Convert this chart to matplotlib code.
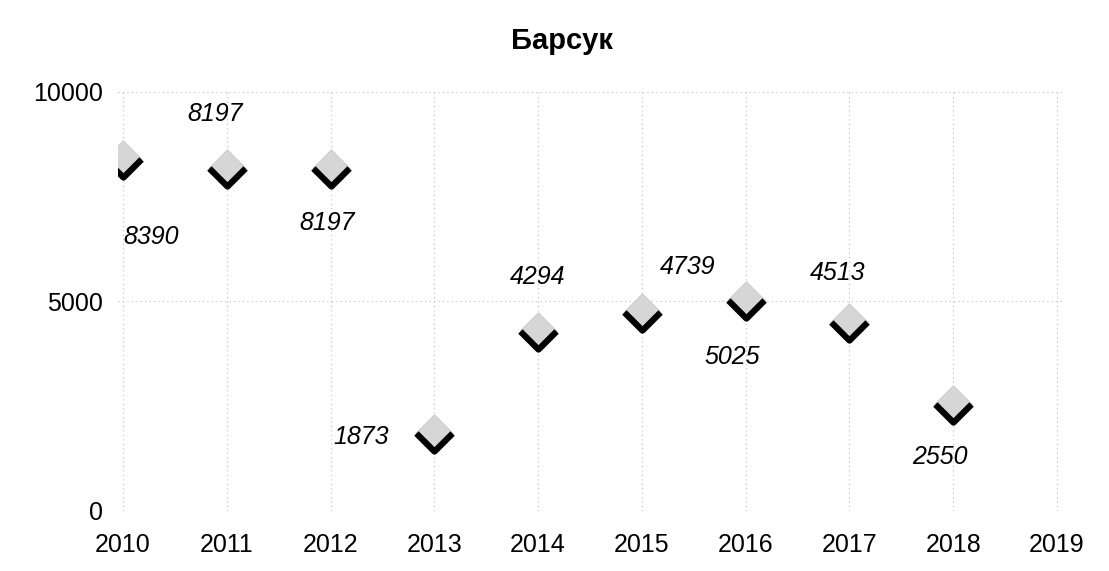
import matplotlib.pyplot as plt
from matplotlib.path import Path

years = [2010, 2011, 2012, 2013, 2014, 2015, 2016, 2017, 2018]
values = [8390, 8197, 8197, 1873, 4294, 4739, 5025, 4513, 2550]
labels = ["8390", "8197", "8197", "1873", "4294", "4739", "5025", "4513", "2550"]
tick_years = list(range(2010, 2020))
y_ticks = [0, 5000, 10000]

# label offsets in pixels (x right, y up)
offsets = [(28, -78), (-12, 54), (-3, -55), (-73, -4), (-1, 54),
           (46, 45), (-13, -57), (-12, 49), (-13, -53)]

plt.rcParams["font.family"] = ["Liberation Sans", "DejaVu Sans"]

diamond = Path([(0, 1), (1, 0), (0, -1), (-1, 0), (0, 1)],
               [Path.MOVETO, Path.LINETO, Path.LINETO, Path.LINETO, Path.CLOSEPOLY])
chevron = Path([(-1, 0), (0, -1), (1, 0)],
               [Path.MOVETO, Path.LINETO, Path.LINETO])

fig = plt.figure(figsize=(11.09, 5.71), dpi=100)
ax = fig.add_axes([0.1064, 0.1051, 0.8512, 0.7338])

ax.plot(years, values, linestyle="none", marker=diamond, markersize=27,
        markerfacecolor="#d6d6d6", markeredgecolor="#c4c4c4", markeredgewidth=0.5)
ax.plot(years, values, linestyle="none", marker=chevron, markersize=26,
        markerfacecolor="none", markeredgecolor="black", markeredgewidth=4.5)

for x, y, t, (dx, dy) in zip(years, values, labels, offsets):
    ax.annotate(t, (x, y), xytext=(dx, dy), textcoords="offset pixels",
                ha="center", va="center", fontsize=18, fontstyle="italic")

ax.set_xlim(2009.952, 2019.048)
ax.set_ylim(0, 10000)
ax.set_xticks(tick_years)
ax.set_yticks(y_ticks)
ax.tick_params(length=0, labelsize=18)
ax.tick_params(axis="x", pad=16)
ax.tick_params(axis="y", pad=11)
ax.grid(True, color="#bdbdbd", linestyle=(0, (1, 3)), linewidth=0.8)
for s in ax.spines.values():
    s.set_visible(False)

fig.text(562 / 1109, 1 - 41 / 571, "Барсук", fontsize=21, fontweight="bold",
         ha="center", va="center")

plt.savefig("out.png")
